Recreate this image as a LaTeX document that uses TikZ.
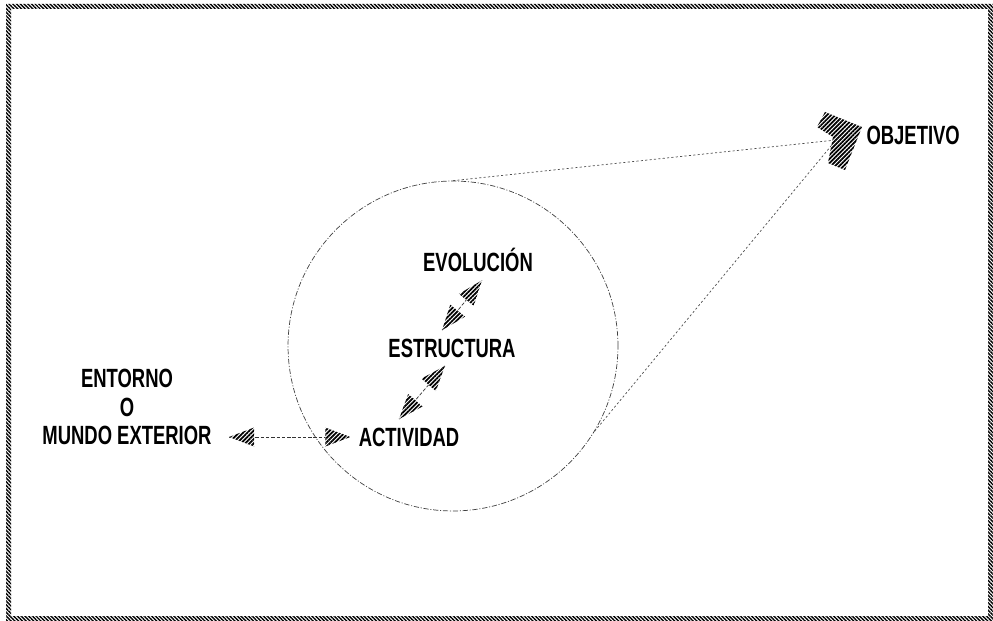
\documentclass[tikz,border=0pt]{standalone}
\usepackage{fontspec}
\setmainfont{Liberation Sans}[FakeStretch=0.70]
\usetikzlibrary{patterns.meta,decorations.markings,calc}

\tikzset{
  hatch/.style={pattern={Lines[angle=45,distance=1.7pt,line width=1pt]}},
  rope/.style={pattern={Lines[angle=-45,distance=1.5pt,line width=0.8pt]}},
  txt/.style={font=\fontsize{15}{16}\selectfont\bfseries, inner sep=2pt, outer sep=1mm},
  link/.style={black!80, line width=0.4pt, dash pattern=on 2pt off 1pt,
    postaction={decorate}, decoration={markings,
      mark=at position 0 with {\tipback}, mark=at position 1 with {\tipfwd}}},
  ray/.style={black!70, line width=0.4pt, dash pattern=on 1.2pt off 1.3pt},
}
\newcommand{\tipfwd}{\fill[white] (0,0) -- (-5mm,1.9mm) -- (-5mm,-1.9mm) -- cycle;
  \fill[hatch] (0,0) -- (-5mm,1.9mm) -- (-5mm,-1.9mm) -- cycle;}
\newcommand{\tipback}{\fill[white] (0,0) -- (5mm,1.9mm) -- (5mm,-1.9mm) -- cycle;
  \fill[hatch] (0,0) -- (5mm,1.9mm) -- (5mm,-1.9mm) -- cycle;}

\begin{document}
\begin{tikzpicture}[x=0.02cm,y=-0.02cm]
\useasboundingbox (0,0) rectangle (993,621);
% marco
\fill[rope, even odd rule] (6,4) rectangle (993,621) (11,9) rectangle (988,616);

% sistema
\node[circle, draw=black!75, line width=0.4pt, dash pattern=on 3pt off 1pt on 0.6pt off 1pt,
  minimum size=6.6cm, inner sep=0pt] (sistema) at (453,346) {};

\node[txt] (evolucion) at (478,260) {EVOLUCIÓN};
\node[txt] (estructura) at (452,348) {ESTRUCTURA};
\node[txt] (actividad) at (409,437) {ACTIVIDAD};
\node[txt, align=center] (entorno) at (127,407) {ENTORNO\\O\\MUNDO EXTERIOR};
\node[txt, anchor=west] (objetivo) at (858,135) {OBJETIVO};
\coordinate (meta) at (836,140);

\draw[link] ($(entorno.east |- actividad.west)+(9,0)$) -- (actividad.west);
\draw[link] ([xshift=-2mm]actividad.north) -- ([xshift=-1.4mm]estructura.south);
\draw[link] ([xshift=-2mm]estructura.north) -- ([xshift=0.8mm]evolucion.south);

\draw[ray] (sistema.north) -- (meta);
\draw[ray] (sistema.-31) -- (meta);

% marca del objetivo
\fill[white] (825,112) -- (862,127) -- (845,170) -- (828,163) -- (833,137) -- (817,127) -- cycle;
\fill[hatch] (825,112) -- (862,127) -- (845,170) -- (828,163) -- (833,137) -- (817,127) -- cycle;

\end{tikzpicture}
\end{document}
